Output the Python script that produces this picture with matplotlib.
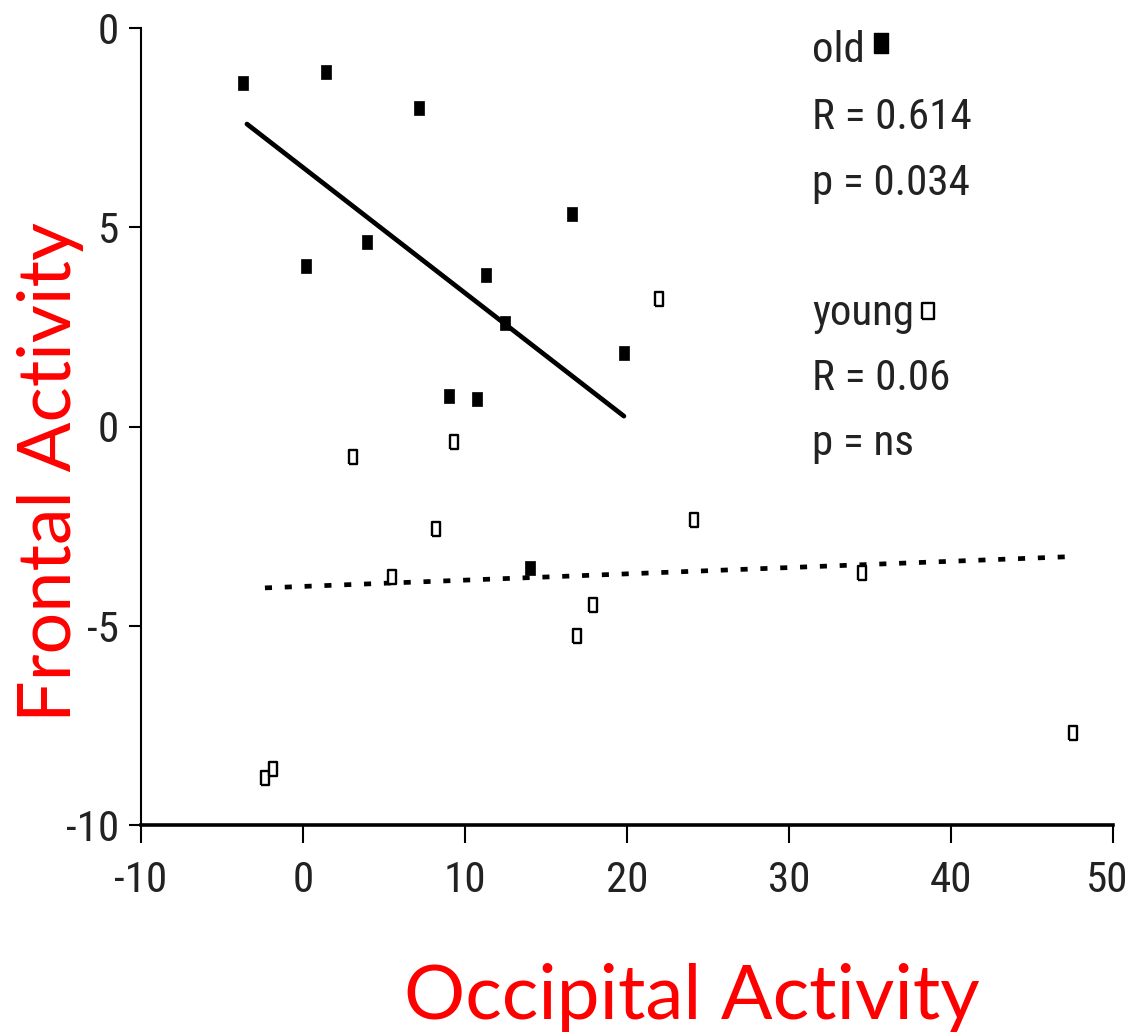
import matplotlib
matplotlib.use("Agg")
import matplotlib.pyplot as plt
import matplotlib.transforms as mtransforms
from matplotlib import font_manager
from matplotlib.font_manager import FontProperties

# --- Data ---

old_x = [-3.70, 1.42, 7.16, 16.60, 3.95, 0.19, 11.30, 12.47, 19.81, 9.01, 10.74, 14.01]
old_y = [8.62, 8.90, 7.99, 5.33, 4.63, 4.03, 3.80, 2.60, 1.84, 0.77, 0.69, -3.55]

young_x = [3.09, 9.32, 8.21, 5.49, 21.98, 24.14, 17.90, 16.91, 34.51, 47.53, -2.35, -1.85]
young_y = [-0.77, -0.39, -2.57, -3.78, 3.20, -2.35, -4.48, -5.26, -3.68, -7.69, -8.82, -8.59]

old_fit_x = [-3.46, 19.81]
old_fit_y = [7.59, 0.26]
young_fit_x = [-2.35, 47.10]
young_fit_y = [-4.05, -3.27]

x_ticks = [-10, 0, 10, 20, 30, 40, 50]
x_ticklabels = ['-10', '0', '10', '20', '30', '40', '50']
y_ticks = [10, 5, 0, -5, -10]
y_ticklabels = ['0', '5', '0', '-5', '-10']   # leading "1" is hidden in the source

old_stats = ['old', 'R = 0.614', 'p = 0.034']
young_stats = ['young', 'R = 0.06', 'p = ns']

x_label = 'Occipital Activity'
y_label = 'Frontal Activity'

# --- Style ---

W, H = 1127, 1032


def pick_narrow():
    """Find a condensed sans font file, fall back to Liberation Sans."""
    files = [f.fname for f in font_manager.fontManager.ttflist]
    prefs = ['liberationsansnarrow-regular', 'liberationsans-narrow',
             'liberationsansnarrow', 'robotocondensed-regular',
             'dejavusanscondensed.', 'opensans_condensed', 'opensanscondensed-regular',
             'notosans-condensed', 'notosanscondensed']
    low = [(p.lower().replace(' ', '').replace('_', ''), p) for p in files]
    for key in prefs:
        key = key.replace('_', '')
        for l, p in low:
            if key in l.split('/')[-1] and 'bold' not in l and 'italic' not in l:
                return FontProperties(fname=p), True
    return FontProperties(family=['Liberation Sans', 'DejaVu Sans']), False


NARROW, IS_NARROW = pick_narrow()
SMALL = 31 if IS_NARROW else 27
names = {f.name for f in font_manager.fontManager.ttflist}
LABEL_FONT = 'Lato' if 'Lato' in names else 'DejaVu Sans'

# tall rectangle marker
RECT = [(-0.33, -0.5), (0.33, -0.5), (0.33, 0.5), (-0.33, 0.5), (-0.33, -0.5)]


def fx(px):
    return px / W


def fy(py):
    return 1 - py / H


def small_font():
    fp = NARROW.copy()
    fp.set_size(SMALL)
    return fp


fig = plt.figure(figsize=(W / 100, H / 100), dpi=100)
ax = fig.add_axes([fx(141), fy(825), fx(1113) - fx(141), fy(28) - fy(825)])

ax.plot(old_fit_x, old_fit_y, color='black', lw=3.4, solid_capstyle='round')
ax.plot(young_fit_x, young_fit_y, color='black', lw=3.4,
        linestyle=(0, (1.5, 2.7)))

ax.plot(old_x, old_y, linestyle='none', marker=RECT, markersize=10.5,
        markerfacecolor='black', markeredgecolor='black', markeredgewidth=0.5)
ax.plot(young_x, young_y, linestyle='none', marker=RECT, markersize=9.5,
        markerfacecolor='white', markeredgecolor='black', markeredgewidth=1.7)

ax.set_xlim(-10, 50)
ax.set_ylim(-10, 10)
ax.set_xticks(x_ticks)
ax.set_xticklabels(x_ticklabels)
ax.set_yticks(y_ticks)
ax.set_yticklabels(y_ticklabels)

for s in ['top', 'right']:
    ax.spines[s].set_visible(False)
ax.spines['left'].set_linewidth(1.5)
ax.spines['bottom'].set_linewidth(2.6)

ax.tick_params(axis='x', length=13, width=1.5, pad=12, colors='black')
ax.tick_params(axis='y', length=9, width=1.5, pad=7, colors='black')
for lab in ax.get_xticklabels() + ax.get_yticklabels():
    lab.set_fontproperties(small_font())
    lab.set_color('#222222')

# the last x label sits against the right edge: nudge it in a little
last = ax.get_xticklabels()[-1]
last.set_transform(last.get_transform() + mtransforms.ScaledTranslation(
    -6 / 100, 0, fig.dpi_scale_trans))

# --- stats text on the right ---
baselines_old = [62, 129, 195]
baselines_young = [325, 390, 455]
for txt, b in zip(old_stats, baselines_old):
    fig.text(fx(812), fy(b), txt, fontproperties=small_font(),
             color='#222222', va='baseline', ha='left')
for txt, b in zip(young_stats, baselines_young):
    fig.text(fx(812), fy(b), txt, fontproperties=small_font(),
             color='#222222', va='baseline', ha='left')

# legend keys next to group names
fig.add_artist(plt.Line2D([fx(881)], [fy(43)], marker=RECT, markersize=15,
                          markerfacecolor='black', markeredgecolor='black',
                          linestyle='none', transform=fig.transFigure))
fig.add_artist(plt.Line2D([fx(928)], [fy(311)], marker=RECT, markersize=12,
                          markerfacecolor='white', markeredgecolor='black',
                          markeredgewidth=1.7, linestyle='none',
                          transform=fig.transFigure))

# --- red axis titles ---
fig.text(fx(692), fy(1019), x_label, family=LABEL_FONT, fontsize=55,
         color='#ff0000', ha='center', va='baseline')
fig.text(fx(71), fy(472), y_label, family=LABEL_FONT, fontsize=53,
         color='#ff0000', ha='center', va='baseline', rotation=90,
         rotation_mode='anchor')

fig.savefig('out.png', dpi=100)
